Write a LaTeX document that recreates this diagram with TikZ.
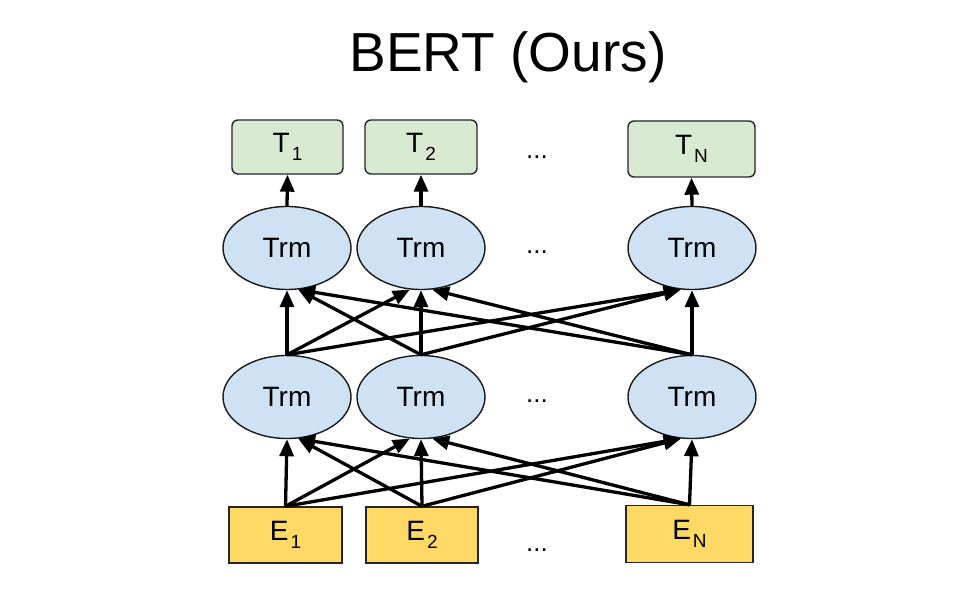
\documentclass[tikz,border=0pt]{standalone}
\usepackage{fontspec}
\setmainfont{Liberation Sans}
\usetikzlibrary{arrows.meta,shapes.geometric}

\definecolor{outgreen}{HTML}{D9EAD3}
\definecolor{trmblue}{HTML}{CFE2F3}
\definecolor{embyellow}{HTML}{FFD966}

\tikzset{
  outbox/.style={draw=black!85, line width=1.4pt, fill=outgreen, rounded corners=6pt,
    minimum height=54pt, font=\fontsize{28}{28}\selectfont, inner sep=0pt},
  trmnode/.style={ellipse, draw=black!90, line width=1.4pt, fill=trmblue,
    minimum width=128pt, minimum height=83pt, font=\fontsize{28}{28}\selectfont, inner sep=0pt},
  embbox/.style={draw=black!85, line width=1.4pt, fill=embyellow,
    minimum height=56pt, font=\fontsize{28}{28}\selectfont, inner sep=0pt},
  dots/.style={font=\fontsize{26}{26}\selectfont},
  conn/.style={line width=3.3pt, -{Triangle[length=17pt,width=14pt]}}
}
\newcommand{\sub}[1]{\kern2pt\raisebox{-8pt}{\fontsize{19}{19}\selectfont #1}}

\begin{document}
\begin{tikzpicture}[x=1pt,y=1pt]
  \useasboundingbox (0,0) rectangle (972,612);

  \node (title) at (508,555) {\fontsize{55}{55}\selectfont BERT (Ours)};

  % outputs
  \node[outbox, minimum width=111pt] (t1) at (287.5,465) {T\sub{1}};
  \node[outbox, minimum width=112pt] (t2) at (421,465) {T\sub{2}};
  \node[outbox, minimum width=127pt, minimum height=56pt] (tN) at (691.5,463) {T\sub{N}};

  % transformer layers
  \node[trmnode] (u1) at (287,364) {Trm};
  \node[trmnode] (u2) at (421,364) {Trm};
  \node[trmnode] (uN) at (692,364) {Trm};

  \node[trmnode] (l1) at (287,215) {Trm};
  \node[trmnode] (l2) at (421,215) {Trm};
  \node[trmnode] (lN) at (692,215) {Trm};

  % embeddings
  \node[embbox, minimum width=113pt] (e1) at (285.5,77) {E\sub{1}};
  \node[embbox, minimum width=112pt] (e2) at (422,77) {E\sub{2}};
  \node[embbox, minimum width=127pt, minimum height=57pt] (eN) at (689.5,78) {E\sub{N}};

  \node[dots] (d1) at (537,455) {...};
  \node[dots] (d2) at (537,360) {...};
  \node[dots] (d3) at (537,211) {...};
  \node[dots] (d4) at (537,62) {...};

  % embeddings to first layer
  \draw[conn] (e1.north) -- (l1.south);
  \draw[conn] (e1.north) -- (l2.-105);
  \draw[conn] (e1.north) -- (lN.-105);
  \draw[conn] (e2.north) -- (l1.-75);
  \draw[conn] (e2.north) -- (l2.south);
  \draw[conn] (e2.north) -- (lN.-105);
  \draw[conn] (eN.north) -- (l1.-75);
  \draw[conn] (eN.north) -- (l2.-75);
  \draw[conn] (eN.north) -- (lN.south);

  % first layer to second layer
  \draw[conn] (l1.north) -- (u1.south);
  \draw[conn] (l1.north) -- (u2.-105);
  \draw[conn] (l1.north) -- (uN.-105);
  \draw[conn] (l2.north) -- (u1.-75);
  \draw[conn] (l2.north) -- (u2.south);
  \draw[conn] (l2.north) -- (uN.-105);
  \draw[conn] (lN.north) -- (u1.-75);
  \draw[conn] (lN.north) -- (u2.-75);
  \draw[conn] (lN.north) -- (uN.south);

  % second layer to outputs
  \draw[conn] (u1.north) -- (t1.south);
  \draw[conn] (u2.north) -- (t2.south);
  \draw[conn] (uN.north) -- (tN.south);
\end{tikzpicture}
\end{document}
